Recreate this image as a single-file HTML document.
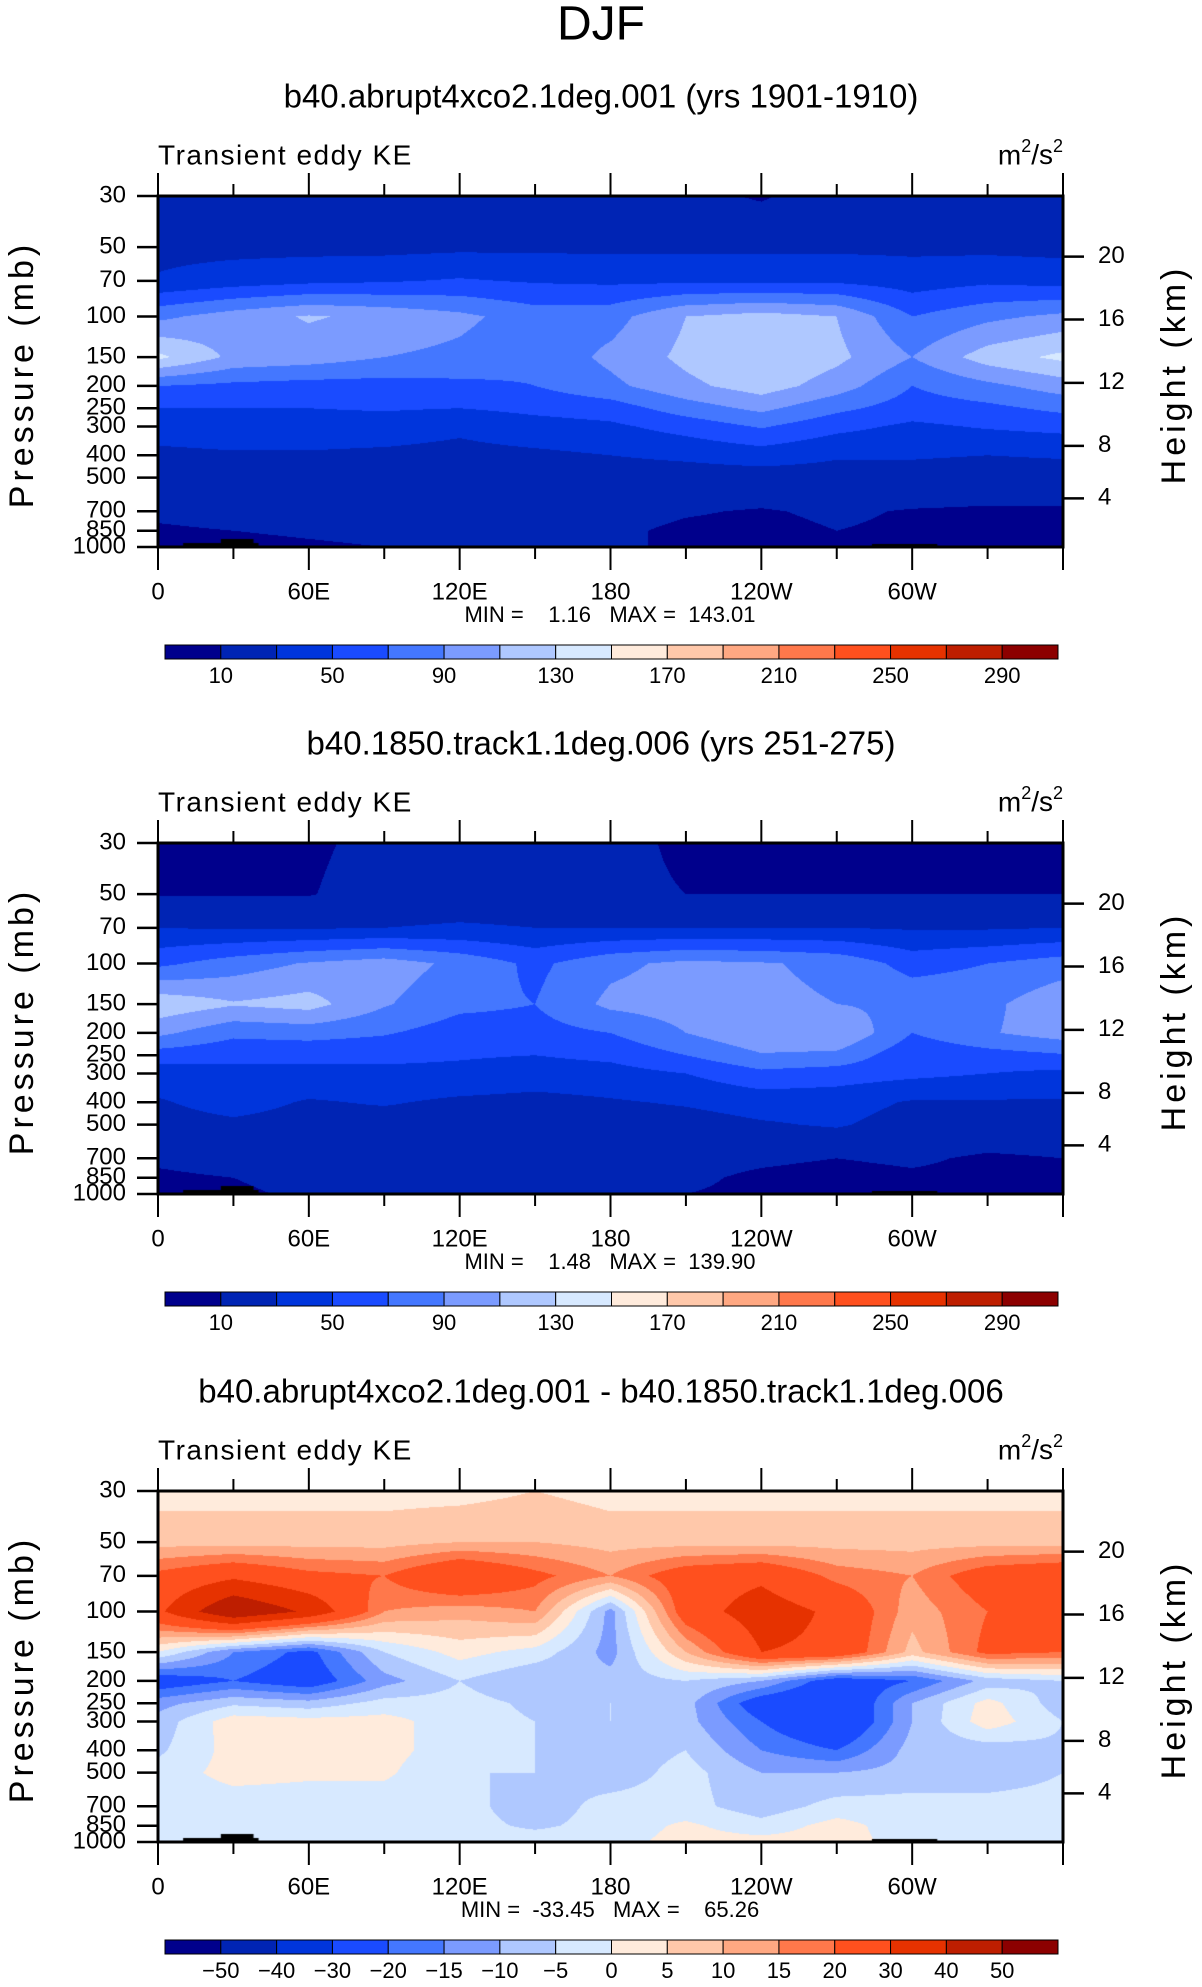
<!DOCTYPE html>
<html><head><meta charset="utf-8">
<style>
html,body{margin:0;padding:0;background:#fff;}
#root{position:relative;width:1202px;height:1987px;overflow:hidden;font-family:"Liberation Sans",sans-serif;}
canvas{position:absolute;}
svg{position:absolute;left:0;top:0;}
</style></head>
<body>
<div id="root">
<canvas id="c0"></canvas>
<canvas id="c1"></canvas>
<canvas id="c2"></canvas>
<svg id="s" width="1202" height="1987"></svg>
</div>
<script>
const lons = [0,30,60,90,120,150,180,210,240,270,300,330,360];
const levels = [30,50,70,100,150,200,250,300,400,500,700,850,1000];
const pTicks = [30,50,70,100,150,200,250,300,400,500,700,850,1000];
const zTickLabels = [4,8,12,16,20];
const zTickPressures = [615,364,194,103,55];
const xTickLabels = ["0","60E","120E","180","120W","60W"];
const xTickLons = [0,60,120,180,240,300];
const ke1 = [
[20,20,20,20,20,20,20,15,8,20,20,20,20],
[24,24,24,24,26,26,26,26,26,26,26,25,24],
[32,40,45,48,52,48,46,46,46,46,40,46,42],
[85,100,112,105,95,80,82,110,118,110,70,85,95],
[135,105,100,90,85,75,95,115,130,115,90,120,135],
[70,65,62,62,65,70,85,105,120,100,70,85,100],
[50,50,50,52,50,55,60,80,95,75,60,65,75],
[38,40,40,40,34,42,46,58,72,56,46,52,56],
[26,28,28,26,24,26,30,34,40,32,32,30,32],
[20,20,20,20,18,20,20,20,20,22,22,20,20],
[13,16,16,16,16,16,14,11,9,12,9,8,8],
[8,10,12,14,15,14,12,8,7,10,8,7,7],
[5,6,8,10,12,12,10,10,8,8,6,5,5]];
const ke2 = [
[7,7,7,15,18,18,15,7,7,7,7,7,7],
[9,9,9,18,20,20,14,10,10,10,10,10,10],
[30,28,28,30,32,30,30,30,30,30,28,28,30],
[65,80,92,100,85,65,85,95,92,85,62,70,80],
[125,112,118,92,75,70,95,100,95,90,85,85,105],
[95,75,78,72,60,62,70,90,108,110,70,88,100],
[60,55,55,55,52,50,55,70,88,85,55,62,68],
[40,45,45,45,45,40,42,50,65,60,55,50,45],
[28,38,28,32,26,24,28,32,38,38,28,28,28],
[22,26,22,20,20,18,20,22,28,32,22,20,20],
[12,15,18,18,18,18,18,14,12,10,12,8,10],
[8,10,14,14,16,16,16,12,8,6,8,7,8],
[6,8,12,12,14,14,14,10,8,7,6,6,6]];
const diff = [
[3,3,3,3,3,5,3,3,3,3,3,3,3],
[8,8,8,8,10,10,8,8,8,8,8,8,8],
[22,28,22,20,30,22,15,25,28,18,15,25,28],
[28,50,38,15,12,15,-12,25,35,28,12,20,25],
[0,-15,-22,-5,2,-2,-12,10,30,28,8,22,20],
[-25,-20,-25,-12,-5,-10,-8,-5,-10,-25,-20,-8,-5],
[-12,-6,-8,-3,-3,-6,-5,-8,-25,-30,-10,2,-8],
[-8,3,2,2,-3,-5,-5,-8,-20,-30,-10,3,-5],
[-6,2,2,2,-3,-5,-8,-5,-15,-20,-8,-8,-6],
[-3,2,1,1,-5,-5,-8,-3,-10,-10,-8,-8,-5],
[-3,-3,-3,-3,-3,-8,-3,-3,-8,-3,-3,-3,-3],
[-3,-3,-3,-3,-3,-6,-3,1,-3,2,-3,-3,-3],
[-2,-2,-2,-2,-2,-2,-2,2,2,2,-2,-2,-2]];
const keBounds = [10,30,50,70,90,110,130,150,170,190,210,230,250,270,290];
const keLabels = ["10","50","90","130","170","210","250","290"];
const diffBounds = [-50,-40,-30,-20,-15,-10,-5,0,5,10,15,20,30,40,50];
const diffLabels = ["-50","-40","-30","-20","-15","-10","-5","0","5","10","15","20","30","40","50"];
const titles = ["b40.abrupt4xco2.1deg.001 (yrs 1901-1910)","b40.1850.track1.1deg.006 (yrs 251-275)","b40.abrupt4xco2.1deg.001 - b40.1850.track1.1deg.006"];
const minmax = ["MIN =    1.16   MAX =  143.01","MIN =    1.48   MAX =  139.90","MIN =  -33.45   MAX =    65.26"];

const palette = [[0,0,140],[0,36,180],[0,53,220],[26,75,255],[68,119,255],[123,155,255],[175,200,255],[215,233,255],[255,235,220],[255,200,170],[255,168,130],[255,120,75],[255,80,30],[230,50,0],[190,30,0],[140,0,0]];
const X0=158, W=905, H=351, TOPS=[196,843,1491];
const lp0=Math.log(30), lp1=Math.log(1000);
function yP(p,top){return top+(Math.log(p)-lp0)/(lp1-lp0)*H;}
function xL(l){return X0+l/360*W;}
const NS="http://www.w3.org/2000/svg";
const svg=document.getElementById('s');
function mk(tag,attrs,parent){const e=document.createElementNS(NS,tag);for(const k in attrs)e.setAttribute(k,attrs[k]);(parent||svg).appendChild(e);return e;}
function txt(s,x,y,size,anchor,parent){const t=mk('text',{x:x,y:y,'font-size':size,'text-anchor':anchor||'middle','dominant-baseline':'middle',fill:'#000'},parent);t.textContent=s;return t;}
function colorIdx(v,b){let i=0;while(i<b.length&&v>=b[i])i++;return i;}
function sample(grid,lon,p){
  const lp=Math.log(p);
  let j=Math.min(Math.floor(lon/30),lons.length-2); let fx=(lon-lons[j])/30;
  let i=0; while(i<levels.length-2&&Math.log(levels[i+1])<lp)i++;
  const a=Math.log(levels[i]),b=Math.log(levels[i+1]);let fy=(lp-a)/(b-a);
  fx=Math.max(0,Math.min(1,fx));fy=Math.max(0,Math.min(1,fy));
  return grid[i][j]*(1-fx)*(1-fy)+grid[i][j+1]*fx*(1-fy)+grid[i+1][j]*(1-fx)*fy+grid[i+1][j+1]*fx*fy;
}
const grids=[ke1,ke2,diff], bounds=[keBounds,keBounds,diffBounds], labs=[keLabels,keLabels,diffLabels];

const dj=txt("DJF",601,27,48);
for(let k=0;k<3;k++){
  const T=TOPS[k], B=T+H;
  const cv=document.getElementById('c'+k);
  cv.width=W;cv.height=Math.round(H);cv.style.left=X0+'px';cv.style.top=T+'px';
  const ctx=cv.getContext('2d');const img=ctx.createImageData(W,cv.height);
  for(let py=0;py<cv.height;py++){
    const p=Math.exp(lp0+(py+0.5)/H*(lp1-lp0));
    for(let px=0;px<W;px++){
      const lon=(px+0.5)/W*360;
      const c=palette[colorIdx(sample(grids[k],lon,p),bounds[k])];
      const o=(py*W+px)*4;img.data[o]=c[0];img.data[o+1]=c[1];img.data[o+2]=c[2];img.data[o+3]=255;
    }
  }
  ctx.putImageData(img,0,0);
  ctx.fillStyle='#000';ctx.fillRect(xL(10)-X0,H-4,xL(40)-xL(10),4);ctx.fillRect(xL(25)-X0,H-8,xL(38)-xL(25),8);ctx.fillRect(xL(284)-X0,H-3,xL(310)-xL(284),3);
  const g=mk('g',{});
  
  
  const tt=txt(titles[k],601,T-97,33,'middle',g);
  const lt=txt("Transient eddy KE",X0,T-39,28,'start',g);lt.setAttribute('letter-spacing','1.5');
  const ut=mk('text',{x:X0+W,y:T-39,'font-size':28,'text-anchor':'end','dominant-baseline':'middle'},g);
  ut.innerHTML='m<tspan dy="-10" font-size="18">2</tspan><tspan dy="10">/s</tspan><tspan dy="-10" font-size="18">2</tspan>';
  
  mk('rect',{x:X0,y:T,width:W,height:H,fill:'none',stroke:'#000','stroke-width':3},g);
  for(let l=0;l<=360;l+=30){
    const len=(l%60==0)?23:12;const x=xL(l);
    mk('line',{x1:x,y1:T,x2:x,y2:T-len,stroke:'#000','stroke-width':2},g);
    mk('line',{x1:x,y1:B,x2:x,y2:B+len,stroke:'#000','stroke-width':2},g);
  }
  xTickLabels.forEach((s,i)=>{const t=txt(s,xL(xTickLons[i]),B+46,24,'middle',g);});
  pTicks.forEach(p=>{const y=yP(p,T);mk('line',{x1:X0,y1:y,x2:X0-21,y2:y,stroke:'#000','stroke-width':2.5},g);
    const t=txt(String(p),X0-32,y,24,'end',g);});
  zTickLabels.forEach((z,i)=>{const y=yP(zTickPressures[i],T);mk('line',{x1:X0+W,y1:y,x2:X0+W+21,y2:y,stroke:'#000','stroke-width':2.5},g);
    const t=txt(String(z),X0+W+35,y,24,'start',g);});
  const pl=txt("Pressure  (mb)",0,0,34,'middle',g);pl.setAttribute('transform','translate(24,'+(T+H/2+3)+') rotate(-90)');pl.setAttribute('letter-spacing','4');
  const hl=txt("Height  (km)",0,0,34,'middle',g);hl.setAttribute('transform','translate(1176,'+(T+H/2+3)+') rotate(-90)');hl.setAttribute('letter-spacing','4');
  const mm=txt(minmax[k],610,B+69,22,'middle',g);mm.style.whiteSpace='pre';
  const cx0=165,cw=893,cy=B+98,ch=14,n=palette.length,bw=cw/n;
  for(let i=0;i<n;i++){const r=mk('rect',{x:cx0+i*bw,y:cy,width:bw,height:ch,fill:'rgb('+palette[i].join(',')+')',stroke:'#000','stroke-width':1},g);
    }
  const bl=bounds[k], lb=labs[k];
  lb.forEach(s=>{const idx=bl.indexOf(Number(s));const t=txt(s.replace('-','\u2212'),cx0+(idx+1)*bw,cy+ch+18,22,'middle',g);});
}
</script>
</body></html>
